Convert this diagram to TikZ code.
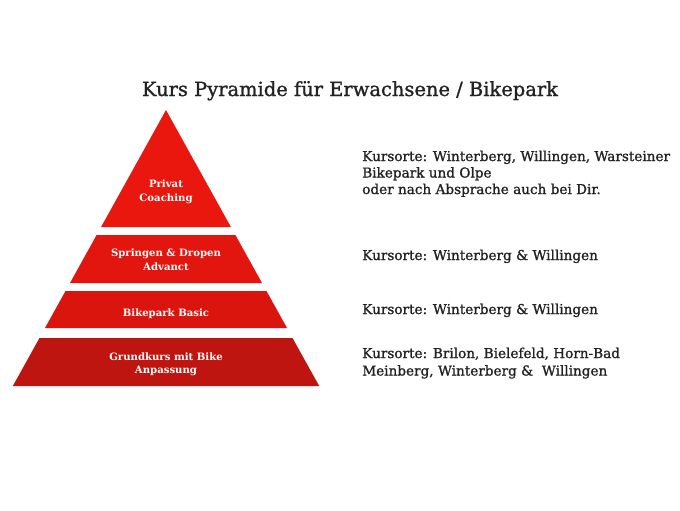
\documentclass[tikz,border=0pt]{standalone}
\usepackage{fontspec}
\setmainfont{DejaVu Serif}
\newfontfamily\heavyserif[FakeBold=1.2]{DejaVu Serif}
\begin{document}
\begin{tikzpicture}[x=0.75pt,y=-0.75pt,
  lab/.style={text=white,font=\bfseries\fontsize{7.6}{9}\selectfont,anchor=base,inner sep=0pt},
  info/.style={text=txt,font=\heavyserif\fontsize{10.2}{12}\selectfont,anchor=base west,inner sep=0pt},
  ttl/.style={text=txt,font=\heavyserif\fontsize{14.6}{17}\selectfont,anchor=base,inner sep=0pt}]
\definecolor{txt}{HTML}{222222}
\definecolor{rA}{HTML}{E9170D}
\definecolor{rB}{HTML}{E2160E}
\definecolor{rC}{HTML}{DA150E}
\definecolor{rD}{HTML}{BF1510}
\useasboundingbox[fill=white] (0,0) rectangle (680,510);
% pyramid bands
\fill[rA] (166,110) -- (230.9,227) -- (101.1,227) -- cycle;
\fill[rB] (96.6,235) -- (235.4,235) -- (262.0,283) -- (70.0,283) -- cycle;
\fill[rC] (65.5,291) -- (266.5,291) -- (287.0,328) -- (45.0,328) -- cycle;
\fill[rD] (39.5,338) -- (292.5,338) -- (319.2,386) -- (12.8,386) -- cycle;
% title
\node[ttl] (title) at (350,96) {Kurs Pyramide für Erwachsene / Bikepark};
% labels
\node[lab] (l1a) at (166,187.3) {Privat};
\node[lab] (l1b) at (166,201.7) {Coaching};
\node[lab] (l2a) at (166,256) {Springen \& Dropen};
\node[lab] (l2b) at (166,270) {Advanct};
\node[lab] (l3) at (166,316) {Bikepark Basic};
\node[lab] (l4a) at (166,360) {Grundkurs mit Bike};
\node[lab] (l4b) at (166,373.3) {Anpassung};
% info texts
\node[info] (i1a) at (362,161) {Kursorte: Winterberg, Willingen, Warsteiner};
\node[info] (i1b) at (362,177.5) {Bikepark und Olpe};
\node[info] (i1c) at (362,194) {oder nach Absprache auch bei Dir.};
\node[info] (i2) at (362,260) {Kursorte: Winterberg \& Willingen};
\node[info] (i3) at (362,314) {Kursorte: Winterberg \& Willingen};
\node[info] (i4a) at (362,358) {Kursorte: Brilon, Bielefeld, Horn-Bad};
\node[info] (i4b) at (362,375.5) {Meinberg, Winterberg \&\ \ Willingen};
\end{tikzpicture}
\end{document}
